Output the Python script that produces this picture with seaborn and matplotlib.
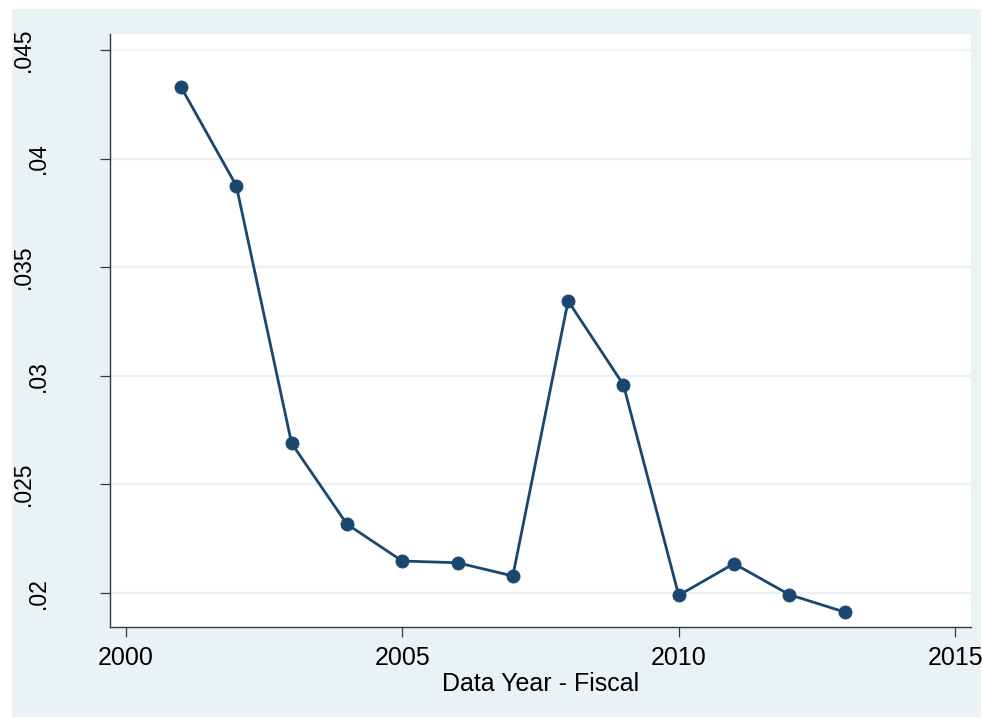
import matplotlib
matplotlib.use('Agg')
import matplotlib.pyplot as plt
import matplotlib.transforms as mtransforms
from matplotlib.patches import Rectangle
import seaborn as sns
import pandas as pd

# values
years = [2001, 2002, 2003, 2004, 2005, 2006, 2007, 2008, 2009, 2010, 2011, 2012, 2013]
rates = [0.0433, 0.03875, 0.02688, 0.02316, 0.02146, 0.02138, 0.02077,
         0.03344, 0.02958, 0.01988, 0.02134, 0.01991, 0.01911]
xticks = [2000, 2005, 2010, 2015]
yticks = [0.02, 0.025, 0.03, 0.035, 0.04, 0.045]
ytick_labels = ['.02', '.025', '.03', '.035', '.04', '.045']
xlabel = 'Data Year - Fiscal'

navy = '#1A476F'
bg = '#EAF2F3'

sns.set_style('white')
plt.rcParams['font.family'] = ['Liberation Sans', 'DejaVu Sans']

W, H = 983, 718
fig = plt.figure(figsize=(W / 100, H / 100), dpi=100, facecolor='white')
# stata-like graph region
fig.patches.append(Rectangle((12 / W, 1 / H), 969 / W, 708 / H, transform=fig.transFigure,
                             facecolor=bg, edgecolor='none', zorder=-5))
ax = fig.add_axes([110 / W, (H - 627.3) / H, 860.7 / W, 593.3 / H])
ax.set_zorder(2)
ax.set_facecolor('white')

df = pd.DataFrame({'year': years, 'rate': rates})
sns.lineplot(data=df, x='year', y='rate', ax=ax, color=navy, linewidth=2.0,
             marker='o', markersize=9.5, markeredgecolor=navy, markeredgewidth=0.5)

ax.set_xlim(1999.716, 2015.28)
ax.set_ylim(0.018406, 0.04574)
ax.set_xticks(xticks)
ax.set_yticks(yticks)
ax.set_axisbelow(True)
ax.grid(axis='y', color=bg, linewidth=1.7)
ax.grid(axis='x', visible=False)

for s in ['top', 'right']:
    ax.spines[s].set_visible(False)
for s in ['left', 'bottom']:
    ax.spines[s].set_color('#3a3a3a')
    ax.spines[s].set_linewidth(1.0)

ax.tick_params(axis='both', direction='out', length=7.2, width=0.9, color='#3a3a3a',
               bottom=True, left=True)
ax.tick_params(axis='x', labelsize=18, pad=6.5, labelcolor='black')
ax.tick_params(axis='y', labelleft=False)

# rotated y labels, shifted by length like stata does
blend = mtransforms.blended_transform_factory(ax.transAxes, ax.transData)
for v, lab in zip(yticks, ytick_labels):
    dx = -60 - 15 * (len(lab) - 3)
    tr = blend + mtransforms.ScaledTranslation(dx / 100, 0, fig.dpi_scale_trans)
    ax.text(0, v, lab, rotation=90, ha='right', va='center', fontsize=16.5,
            color='black', transform=tr)

ax.set_xlabel(xlabel, fontsize=18, labelpad=1, color='black')
ax.set_ylabel('')

fig.savefig('out.png', dpi=100, facecolor='white')
